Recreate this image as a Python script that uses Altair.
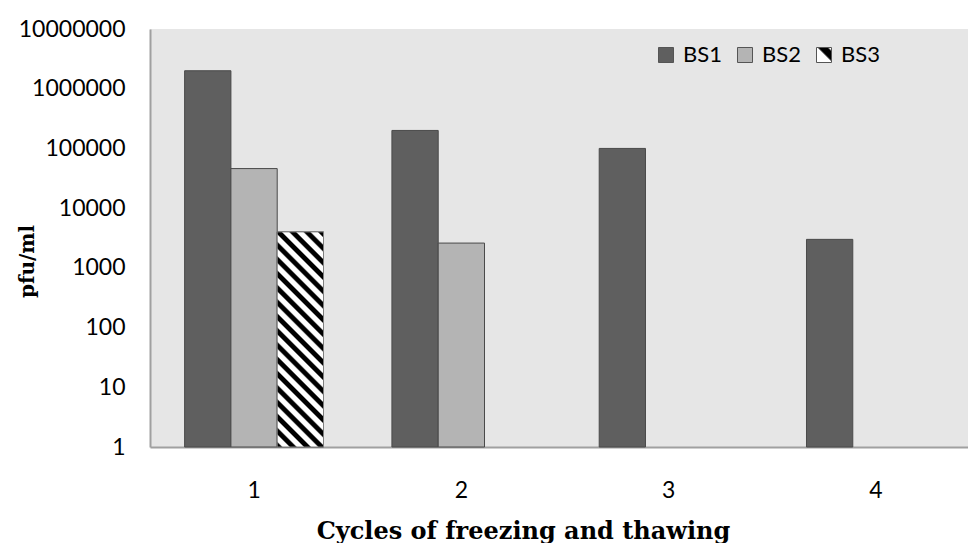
import math
import altair as alt
import pandas as pd

# ---- data ----
cycles = ["1", "2", "3", "4"]
series = ["BS1", "BS2", "BS3"]
bs1 = [2000000, 200000, 100000, 3000]
bs2 = [46000, 2600, None, None]
bs3 = [4000, None, None, None]
y_ticks = [1, 10, 100, 1000, 10000, 100000, 1000000, 10000000]

rows = []
for name, vals in zip(series, [bs1, bs2, bs3]):
    for c, v in zip(cycles, vals):
        if v is not None:
            rows.append({"cycle": c, "series": name, "value": v})
df = pd.DataFrame(rows)

# ---- layout / style ----
W, H = 818, 418
RANGE = 830
P_IN, P_OUT = 0.33, 0.167
FONT = "Lato"
SERIF = "DejaVu Serif"
C1, C2 = "#5f5f5f", "#b4b4b4"

step = RANGE / (len(cycles) - P_IN + 2 * P_OUT)
bar_w = step * (1 - P_IN) / 3
bar_h = math.log10(bs3[0]) / 7 * H
period = 14.3  # vertical stripe period in px

# hatch gradient for the BS3 bar (stripes at 45 deg, "\" direction)
k = (bar_w + bar_h) / (bar_w ** 2 + bar_h ** 2)
n_cyc = (bar_w + bar_h) / period
stops = []
pattern = [(0.0, "#000000"), (0.30, "#000000"), (0.42, "#ffffff"),
           (0.82, "#ffffff"), (0.94, "#000000")]
i = 0
last = -1.0
while True:
    base = i / n_cyc
    if base > 1:
        break
    for off, col in pattern:
        o = base + off / n_cyc
        if o > 1:
            break
        if o > last:
            stops.append({"offset": round(o, 5), "color": col})
            last = o
    i += 1
hatch = {
    "gradient": "linear",
    "x1": 0, "y1": 1,
    "x2": round(k * bar_w, 5), "y2": round(1 - k * bar_h, 5),
    "stops": stops,
}

legend_hatch = ("{gradient:'linear',x1:0,y1:1,x2:1,y2:0,stops:["
                "{offset:0,color:'#ffffff'},{offset:0.5,color:'#ffffff'},"
                "{offset:0.58,color:'#000000'},{offset:0.85,color:'#000000'},"
                "{offset:0.92,color:'#ffffff'},{offset:1,color:'#ffffff'}]}")

x_enc = alt.X(
    "cycle:N",
    sort=cycles,
    scale=alt.Scale(domain=cycles, range=[0, RANGE], paddingInner=P_IN, paddingOuter=P_OUT),
    axis=alt.Axis(
        title="Cycles of freezing and thawing",
        labelAngle=0, ticks=False, tickSize=0, labelPadding=32,
        labelFont=FONT, labelFontSize=23, labelColor="#000000",
        titleFont=SERIF, titleFontSize=24, titleFontWeight="bold", titleColor="#000000",
        titleX=373, titleY=91, titleAlign="center", titleBaseline="alphabetic",
        domainColor="#a0a0a0", domainWidth=2,
    ),
)
xoff_enc = alt.XOffset("series:N", scale=alt.Scale(domain=series, paddingInner=0, paddingOuter=0))
y_enc = alt.Y(
    "value:Q",
    scale=alt.Scale(type="log", domain=[1, 10000000], zero=False, nice=False),
    axis=alt.Axis(
        title="pfu/ml", values=y_ticks, format="d", grid=False,
        ticks=False, tickSize=0, labelPadding=25,
        labelFont=FONT, labelFontSize=23, labelColor="#000000",
        titleFont=SERIF, titleFontSize=20, titleFontWeight="bold", titleColor="#000000",
        titleAngle=270, titleX=-117, titleY=232, titleAlign="center",
        titleBaseline="alphabetic",
        domainColor="#a0a0a0", domainWidth=2,
    ),
)
y2_enc = alt.datum(1)

bars = alt.Chart(df).mark_bar(stroke="#4a4a4a", strokeWidth=1).encode(
    x=x_enc,
    xOffset=xoff_enc,
    y=y_enc,
    y2=y2_enc,
    fill=alt.Fill(
        "series:N",
        scale=alt.Scale(domain=series, range=[C1, C2, alt.ExprRef(legend_hatch)]),
        legend=alt.Legend(
            title=None, orient="none", direction="horizontal",
            legendX=505, legendY=15,
            symbolType="square", symbolSize=225,
            symbolStrokeColor="#555555", symbolStrokeWidth=1,
            labelFont=FONT, labelFontSize=22, labelColor="#000000",
            labelOffset=6, columnPadding=12, padding=0,
        ),
    ),
)

hatched = alt.Chart(df).transform_filter(alt.datum.series == "BS3").mark_bar(
    fill=hatch, stroke="#7f7f7f", strokeWidth=1
).encode(
    x=x_enc,
    xOffset=xoff_enc,
    y=y_enc,
    y2=y2_enc,
)

chart = alt.layer(bars, hatched).properties(
    width=W, height=H,
    autosize=alt.AutoSizeParams(type="none"),
    padding={"left": 150, "top": 29, "right": 0, "bottom": 96},
    background="#ffffff",
).configure_view(fill="#e6e6e6", stroke=None)

chart.save("out.html", embed_options={"renderer": "svg", "actions": False})
